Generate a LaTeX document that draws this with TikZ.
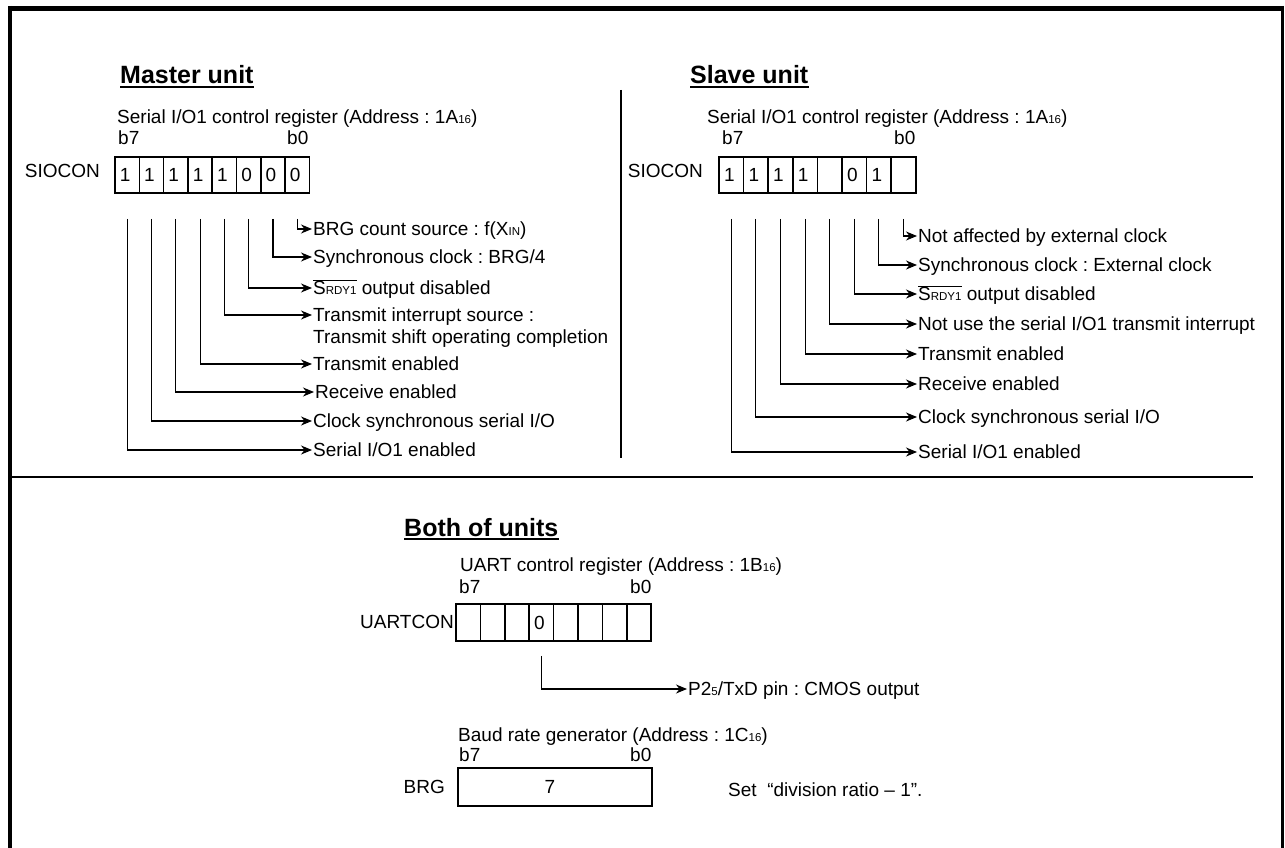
\documentclass[tikz,border=0pt]{standalone}
\usepackage{fontspec}
\setmainfont{Liberation Sans}
\usetikzlibrary{arrows.meta}
\frenchspacing
\newcommand\sm[1]{{\fontsize{11.5}{12}\selectfont #1}}
\newcommand\srdy{$\overline{\hbox{S\sm{RDY1}}}$}
\begin{document}
\begin{tikzpicture}[x=1pt,y=-1pt,
  txt/.style={font=\fontsize{19}{22}\selectfont, inner sep=0pt, text height=13.6pt, text depth=0pt},
  lab/.style={txt, anchor=west},
  ttl/.style={font=\fontsize{25}{28}\selectfont\bfseries, inner sep=0pt, anchor=base west},
  cell/.style={draw, line width=1.6pt, minimum width=24.3pt, minimum height=36pt, inner sep=0pt, font=\fontsize{19}{22}\selectfont},
  conn/.style={line width=1.1pt, -{Stealth[length=11pt,width=9pt,inset=3.5pt]}, shorten >=1pt},
]
\useasboundingbox (0,0) rectangle (1285,848);
\fill[white] (0,0) rectangle (1285,848);
% frame
\draw[line width=5pt] (8,8.5) -- (1284,8.5);
\draw[line width=4pt] (10,6) -- (10,848);
\draw[line width=3pt] (1282.5,6) -- (1282.5,848);
% dividers
\coordinate (vtop) at (621,90);
\coordinate (vbot) at (621,458);
\draw[line width=2pt] (vtop) -- (vbot);
\coordinate (hl) at (8,477);
\coordinate (hr) at (1253,477);
\draw[line width=2.5pt] (hl) -- (hr);

% ---------------- Master unit
\node[ttl] (tm) at (120,84) {Master unit};
\draw[line width=2pt] ([yshift=-3pt]tm.base west) -- ([yshift=-3pt]tm.base east);
\node[lab] (mreg) at (117,117) {Serial I/O1 control register (Address : 1A\sm{16})};
\node[lab] (mb7) at (118,138) {b7};
\node[lab] (mb0) at (287,138) {b0};
\node[txt, anchor=east] (msio) at (100,171) {SIOCON};
\foreach \v [count=\i from 0] in {1,1,1,1,1,0,0,0}
  \node[cell] (mc\i) at ({115+12.15+24.3*\i},175) {\hspace*{-4pt}\v};

\node[lab] (ml7) at (313,229) {BRG count source : f(X\sm{IN})};
\node[lab] (ml6) at (313,257) {Synchronous clock : BRG/4};
\node[lab] (ml5) at (313,288) {\srdy{} output disabled};
\node[lab] (ml4) at (313,315) {Transmit interrupt source :};
\node[lab] (ml4b) at (313,337) {Transmit shift operating completion};
\node[lab] (ml3) at (313,364) {Transmit enabled};
\node[lab] (ml2) at (315,392) {Receive enabled};
\node[lab] (ml1) at (313,421) {Clock synchronous serial I/O};
\node[lab] (ml0) at (313,450) {Serial I/O1 enabled};
\foreach \i in {0,...,7}
  \draw[conn] ([yshift=-25pt]mc\i.south) |- (ml\i.west);

% ---------------- Slave unit
\node[ttl] (ts) at (690,84) {Slave unit};
\draw[line width=2pt] ([yshift=-3pt]ts.base west) -- ([yshift=-3pt]ts.base east);
\node[lab] (sreg) at (707,117) {Serial I/O1 control register (Address : 1A\sm{16})};
\node[lab] (sb7) at (722,138) {b7};
\node[lab] (sb0) at (894,138) {b0};
\node[txt, anchor=east] (ssio) at (703,171) {SIOCON};
\foreach \v [count=\i from 0] in {1,1,1,1,{},0,1,{}}
  \node[cell, minimum width=24.6pt] (sc\i) at ({719+12.3+24.6*\i},175) {\hspace*{-4pt}\v};

\node[lab] (sl7) at (918,236) {Not affected by external clock};
\node[lab] (sl6) at (918,265) {Synchronous clock : External clock};
\node[lab] (sl5) at (918,294) {\srdy{} output disabled};
\node[lab] (sl4) at (918,324) {Not use the serial I/O1 transmit interrupt};
\node[lab] (sl3) at (918,354) {Transmit enabled};
\node[lab] (sl2) at (918,384) {Receive enabled};
\node[lab] (sl1) at (918,417) {Clock synchronous serial I/O};
\node[lab] (sl0) at (918,452) {Serial I/O1 enabled};
\foreach \i in {0,...,7}
  \draw[conn] ([yshift=-25pt]sc\i.south) |- (sl\i.west);

% ---------------- Both of units
\node[ttl] (tb) at (404,536) {Both of units};
\draw[line width=2pt] ([yshift=-3pt]tb.base west) -- ([yshift=-3pt]tb.base east);
\node[lab] (ureg) at (460,565) {UART control register (Address : 1B\sm{16})};
\node[lab] (ub7) at (459,587) {b7};
\node[lab] (ub0) at (630,587) {b0};
\node[txt, anchor=east] (ucon) at (454,622) {UARTCON};
\foreach \v [count=\i from 0] in {{},{},{},0,{},{},{},{}}
  \node[cell, minimum width=24.4pt, minimum height=37pt] (uc\i) at ({456+12.2+24.4*\i},622.5) {\hspace*{-4pt}\v};
\node[lab] (ul) at (688,689) {P2\sm{5}/TxD pin : CMOS output};
\draw[conn] ([yshift=-14pt]uc3.south) |- (ul.west);

\node[lab] (breg) at (458,735) {Baud rate generator (Address : 1C\sm{16})};
\node[lab] (bb7) at (459,755) {b7};
\node[lab] (bb0) at (630,755) {b0};
\node[txt, anchor=east] (bname) at (445,787) {BRG};
\node[draw, line width=1.6pt, minimum width=194pt, minimum height=38pt, inner sep=0pt] (brg) at (555,787) {};
\node[txt] (bval) at (550,787) {7};
\node[lab] (bset) at (728,790) {Set~~“division ratio -- 1”.};
\end{tikzpicture}
\end{document}
